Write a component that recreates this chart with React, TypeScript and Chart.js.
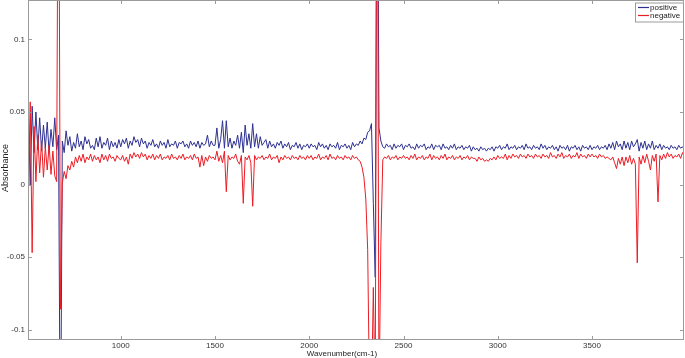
import { useEffect, useRef } from "react";
import { Chart, registerables } from "chart.js";

Chart.register(...registerables);

const FONT = '"Liberation Sans", Arial, sans-serif';

// Sampling grid of the spectrum (cm-1)
const WAVENUMBER_START = 500;
const WAVENUMBER_STEP = 10;

const xTickValues = [1000, 1500, 2000, 2500, 3000, 3500];
const yTickValues = [-0.1, -0.05, 0, 0.05, 0.1];
const yTickLabels = ["-0.1", "-0.05", "0", "0.05", "0.1"];

const seriesNames = ["positive", "negative"];
const seriesColors = ["#2d3091", "#ec1c24"];

// positive, 500-990 cm-1
const positive500 = [
  0.030, 0.052, -0.001, 0.054, 0.022, 0.050, 0.024, 0.046, 0.023, 0.041,
  0.025, 0.043, 0.022, 0.038, 0.026, 0.046, 0.024, 0.034, -0.200, 0.030,
  0.022, 0.037, 0.027, 0.033, 0.023, 0.029, 0.025, 0.035, 0.026, 0.030,
  0.024, 0.033, 0.028, 0.031, 0.025, 0.027, 0.024, 0.032, 0.026, 0.033,
  0.025, 0.029, 0.027, 0.032, 0.024, 0.030, 0.026, 0.029, 0.025, 0.031,
];
const positive1000 = [
  0.026, 0.031, 0.028, 0.032, 0.025, 0.030, 0.027, 0.033, 0.029, 0.031,
  0.026, 0.032, 0.028, 0.030, 0.025, 0.029, 0.027, 0.031, 0.026, 0.028,
  0.025, 0.030, 0.027, 0.029, 0.025, 0.031, 0.026, 0.028, 0.027, 0.030,
  0.025, 0.029, 0.028, 0.030, 0.026, 0.028, 0.025, 0.030, 0.027, 0.029,
  0.026, 0.030, 0.025, 0.029, 0.027, 0.028, 0.034, 0.026, 0.030, 0.027,
];
const positive1500 = [
  0.027, 0.039, 0.025, 0.031, 0.044, 0.025, 0.044, 0.026, 0.032, 0.025,
  0.030, 0.027, 0.034, 0.025, 0.036, 0.022, 0.041, 0.027, 0.035, 0.025,
  0.042, 0.026, 0.035, 0.025, 0.033, 0.027, 0.029, 0.031, 0.025, 0.030,
  0.026, 0.028, 0.025, 0.029, 0.027, 0.030, 0.025, 0.028, 0.026, 0.029,
  0.024, 0.027, 0.026, 0.029, 0.025, 0.028, 0.024, 0.027, 0.026, 0.028,
];
const positive2000 = [
  0.025, 0.028, 0.026, 0.027, 0.024, 0.029, 0.026, 0.028, 0.025, 0.027,
  0.024, 0.028, 0.026, 0.027, 0.025, 0.029, 0.024, 0.027, 0.026, 0.028,
  0.025, 0.027, 0.024, 0.029, 0.026, 0.028, 0.027, 0.030, 0.028, 0.032,
  0.031, 0.036, 0.037, 0.042, -0.013, -0.064, 0.300, 0.039, 0.030, 0.026,
  0.025, 0.028, 0.026, 0.027, 0.024, 0.028, 0.025, 0.027, 0.026, 0.028,
];
const positive2500 = [
  0.024, 0.027, 0.026, 0.028, 0.025, 0.026, 0.024, 0.028, 0.025, 0.027,
  0.026, 0.028, 0.024, 0.026, 0.025, 0.028, 0.024, 0.027, 0.026, 0.027,
  0.024, 0.028, 0.025, 0.026, 0.024, 0.027, 0.025, 0.028, 0.024, 0.026,
  0.025, 0.027, 0.024, 0.026, 0.025, 0.027, 0.023, 0.026, 0.024, 0.025,
  0.023, 0.026, 0.024, 0.025, 0.023, 0.025, 0.024, 0.026, 0.023, 0.026,
];
const positive3000 = [
  0.025, 0.027, 0.024, 0.026, 0.025, 0.028, 0.024, 0.026, 0.025, 0.027,
  0.024, 0.026, 0.025, 0.027, 0.024, 0.028, 0.025, 0.026, 0.024, 0.027,
  0.025, 0.026, 0.024, 0.028, 0.025, 0.027, 0.024, 0.026, 0.025, 0.027,
  0.024, 0.026, 0.023, 0.027, 0.025, 0.026, 0.024, 0.027, 0.023, 0.026,
  0.025, 0.027, 0.024, 0.026, 0.023, 0.027, 0.025, 0.026, 0.024, 0.027,
];
const positive3500 = [
  0.024, 0.026, 0.025, 0.027, 0.024, 0.026, 0.025, 0.027, 0.024, 0.028,
  0.025, 0.029, 0.024, 0.030, 0.026, 0.028, 0.024, 0.030, 0.025, 0.029,
  0.024, 0.030, 0.026, 0.028, 0.031, 0.023, 0.029, 0.025, 0.030, 0.024,
  0.028, 0.025, 0.030, 0.024, 0.027, 0.025, 0.028, 0.024, 0.027, 0.025,
  0.026, 0.024, 0.027, 0.025, 0.026, 0.024, 0.027, 0.025, 0.026, 0.024,
  0.026,
];

// negative, 500-990 cm-1
const negative500 = [
  0.030, -0.008, 0.057, -0.047, 0.040, 0.002, 0.034, 0.008, 0.030, 0.005,
  0.026, 0.010, 0.027, 0.007, 0.023, 0.006, 0.002, 0.300, -0.086, 0.001,
  0.009, 0.004, 0.013, 0.010, 0.016, 0.012, 0.019, 0.015, 0.020, 0.016,
  0.021, 0.015, 0.019, 0.017, 0.021, 0.016, 0.020, 0.017, 0.019, 0.015,
  0.021, 0.017, 0.020, 0.016, 0.021, 0.018, 0.019, 0.016, 0.020, 0.018,
];
const negative1000 = [
  0.017, 0.020, 0.016, 0.019, 0.014, 0.021, 0.018, 0.022, 0.019, 0.021,
  0.018, 0.022, 0.019, 0.021, 0.017, 0.020, 0.018, 0.021, 0.017, 0.020,
  0.018, 0.021, 0.017, 0.019, 0.018, 0.020, 0.017, 0.021, 0.018, 0.019,
  0.017, 0.020, 0.018, 0.021, 0.017, 0.019, 0.018, 0.020, 0.017, 0.021,
  0.018, 0.019, 0.012, 0.020, 0.013, 0.019, 0.016, 0.020, 0.018, 0.019,
];
const negative1500 = [
  0.017, 0.023, 0.016, 0.020, 0.015, 0.023, -0.005, 0.020, 0.017, 0.019,
  0.018, 0.021, 0.016, 0.014, 0.020, -0.013, 0.019, 0.017, 0.020, 0.015,
  -0.015, 0.020, 0.017, 0.019, 0.018, 0.020, 0.017, 0.019, 0.018, 0.021,
  0.017, 0.019, 0.018, 0.020, 0.015, 0.019, 0.017, 0.020, 0.018, 0.019,
  0.017, 0.020, 0.018, 0.019, 0.017, 0.020, 0.018, 0.019, 0.017, 0.020,
];
const negative2000 = [
  0.018, 0.020, 0.017, 0.019, 0.018, 0.021, 0.017, 0.019, 0.018, 0.020,
  0.017, 0.021, 0.018, 0.019, 0.017, 0.020, 0.018, 0.019, 0.017, 0.020,
  0.018, 0.019, 0.017, 0.020, 0.018, 0.019, 0.017, 0.016, 0.012, 0.005,
  -0.010, -0.045, -0.150, -0.150, -0.071, -0.150, 0.300, -0.150, -0.040, 0.017,
  0.019, 0.018, 0.020, 0.017, 0.019, 0.018, 0.020, 0.017, 0.019, 0.018,
];
const negative2500 = [
  0.020, 0.018, 0.019, 0.017, 0.020, 0.018, 0.021, 0.017, 0.019, 0.018,
  0.020, 0.017, 0.019, 0.018, 0.021, 0.017, 0.020, 0.018, 0.019, 0.017,
  0.020, 0.018, 0.021, 0.017, 0.019, 0.018, 0.020, 0.017, 0.019, 0.018,
  0.020, 0.017, 0.019, 0.018, 0.020, 0.017, 0.019, 0.018, 0.018, 0.016,
  0.019, 0.017, 0.018, 0.016, 0.017, 0.016, 0.018, 0.017, 0.019, 0.017,
];
const negative3000 = [
  0.020, 0.018, 0.019, 0.018, 0.021, 0.017, 0.020, 0.018, 0.021, 0.019,
  0.020, 0.018, 0.021, 0.019, 0.020, 0.018, 0.021, 0.019, 0.020, 0.018,
  0.021, 0.019, 0.020, 0.018, 0.021, 0.019, 0.020, 0.018, 0.022, 0.019,
  0.020, 0.018, 0.021, 0.019, 0.022, 0.018, 0.020, 0.019, 0.021, 0.018,
  0.020, 0.019, 0.022, 0.018, 0.021, 0.019, 0.020, 0.018, 0.021, 0.019,
];
const negative3500 = [
  0.021, 0.019, 0.020, 0.018, 0.021, 0.019, 0.020, 0.018, 0.019, 0.018,
  0.017, 0.019, 0.015, 0.011, 0.018, 0.014, 0.019, 0.013, 0.019, 0.015,
  0.020, 0.014, 0.018, 0.014, -0.054, 0.019, 0.014, 0.020, 0.015, 0.021,
  0.016, 0.010, 0.020, 0.016, 0.021, -0.012, 0.020, 0.017, 0.021, 0.018,
  0.022, 0.019, 0.021, 0.018, 0.020, 0.019, 0.021, 0.018, 0.022, 0.019,
  0.021,
];

const positive = [
  ...positive500, ...positive1000, ...positive1500, ...positive2000,
  ...positive2500, ...positive3000, ...positive3500,
];
const negative = [
  ...negative500, ...negative1000, ...negative1500, ...negative2000,
  ...negative2500, ...negative3000, ...negative3500,
];
const wavenumbers = positive.map((_, i) => WAVENUMBER_START + i * WAVENUMBER_STEP);

const AXIS_COLOR = "#9b9b9b";

const framePlugin = {
  id: "frameTicksLegend",
  afterDraw(chart: any) {
    const { ctx, chartArea: a, scales } = chart;
    ctx.save();
    ctx.strokeStyle = AXIS_COLOR;
    ctx.lineWidth = 1;
    ctx.strokeRect(Math.round(a.left) + 0.5, Math.round(a.top) + 0.5,
      Math.round(a.right - a.left) - 1, Math.round(a.bottom - a.top) - 1);
    ctx.beginPath();
    for (const v of xTickValues) {
      const px = Math.round(scales.x.getPixelForValue(v)) + 0.5;
      ctx.moveTo(px, a.bottom); ctx.lineTo(px, a.bottom - 4);
      ctx.moveTo(px, a.top); ctx.lineTo(px, a.top + 4);
    }
    for (const v of yTickValues) {
      const py = Math.round(scales.y.getPixelForValue(v)) + 0.5;
      ctx.moveTo(a.left, py); ctx.lineTo(a.left + 4, py);
      ctx.moveTo(a.right, py); ctx.lineTo(a.right - 4, py);
    }
    ctx.stroke();

    ctx.fillStyle = "#222";
    ctx.textAlign = "center";
    ctx.textBaseline = "middle";
    ctx.font = `8px ${FONT}`;
    ctx.fillText("Wavenumber(cm-1)", 342, 353.5);
    ctx.save();
    ctx.font = `9px ${FONT}`;
    ctx.translate(6, 168);
    ctx.rotate(-Math.PI / 2);
    ctx.fillText("Absorbance", 0, 0);
    ctx.restore();

    const lx = 635, ly = 2.5, lw = 49, lh = 19;
    ctx.fillStyle = "#fff";
    ctx.fillRect(lx, ly, lw, lh);
    ctx.strokeStyle = AXIS_COLOR;
    ctx.strokeRect(lx + 0.5, ly + 0.5, lw - 1, lh);
    ctx.font = `8px ${FONT}`;
    ctx.textAlign = "left";
    seriesNames.forEach((name, i) => {
      const y = 7.5 + i * 8;
      ctx.strokeStyle = seriesColors[i];
      ctx.lineWidth = 1.2;
      ctx.beginPath();
      ctx.moveTo(638, y); ctx.lineTo(649, y);
      ctx.stroke();
      ctx.fillStyle = "#222";
      ctx.fillText(name, 650, y + 0.5);
    });
    ctx.restore();
  },
};

export default function App() {
  const canvasRef = useRef<HTMLCanvasElement | null>(null);

  useEffect(() => {
    if (!canvasRef.current) return;
    const lineStyle = {
      borderWidth: 1,
      pointRadius: 0,
      tension: 0,
      borderJoinStyle: "bevel" as const,
    };
    const chart = new Chart(canvasRef.current, {
      type: "line",
      data: {
        datasets: [
          {
            label: seriesNames[1],
            data: wavenumbers.map((x, i) => ({ x, y: negative[i] })),
            borderColor: seriesColors[1],
            order: 0,
            ...lineStyle,
          },
          {
            label: seriesNames[0],
            data: wavenumbers.map((x, i) => ({ x, y: positive[i] })),
            borderColor: seriesColors[0],
            order: 1,
            ...lineStyle,
          },
        ],
      },
      options: {
        animation: false,
        responsive: false,
        devicePixelRatio: 1,
        layout: { padding: { left: 0, right: 1, top: 0, bottom: 0 } },
        plugins: { legend: { display: false }, tooltip: { enabled: false } },
        scales: {
          x: {
            type: "linear",
            min: 508,
            max: 3988,
            afterBuildTicks: (s: any) => {
              s.ticks = xTickValues.map((value) => ({ value }));
            },
            afterFit: (s: any) => {
              s.height = 18;
              s.paddingLeft = 0;
              s.paddingRight = 0;
            },
            grid: { display: false, drawTicks: false },
            border: { display: false },
            ticks: {
              padding: 1,
              maxRotation: 0,
              autoSkip: false,
              color: "#333",
              font: { family: FONT, size: 8 },
              callback: (v: any) => String(v),
            },
          },
          y: {
            type: "linear",
            min: -0.10724,
            max: 0.12724,
            afterBuildTicks: (s: any) => {
              s.ticks = yTickValues.map((value) => ({ value }));
            },
            afterFit: (s: any) => {
              s.width = 28;
              s.paddingTop = 0;
              s.paddingBottom = 0;
            },
            grid: { display: false, drawTicks: false },
            border: { display: false },
            ticks: {
              padding: 3,
              autoSkip: false,
              color: "#333",
              font: { family: FONT, size: 8 },
              callback: (v: any) => {
                const idx = yTickValues.findIndex((t) => Math.abs(t - v) < 1e-9);
                return idx >= 0 ? yTickLabels[idx] : "";
              },
            },
          },
        },
      },
      plugins: [framePlugin],
    });
    return () => chart.destroy();
  }, []);

  return (
    <div style={{ position: "fixed", left: 0, top: 0, width: 685, height: 358, background: "#fff" }}>
      <canvas ref={canvasRef} width={685} height={358} style={{ display: "block" }} />
    </div>
  );
}
